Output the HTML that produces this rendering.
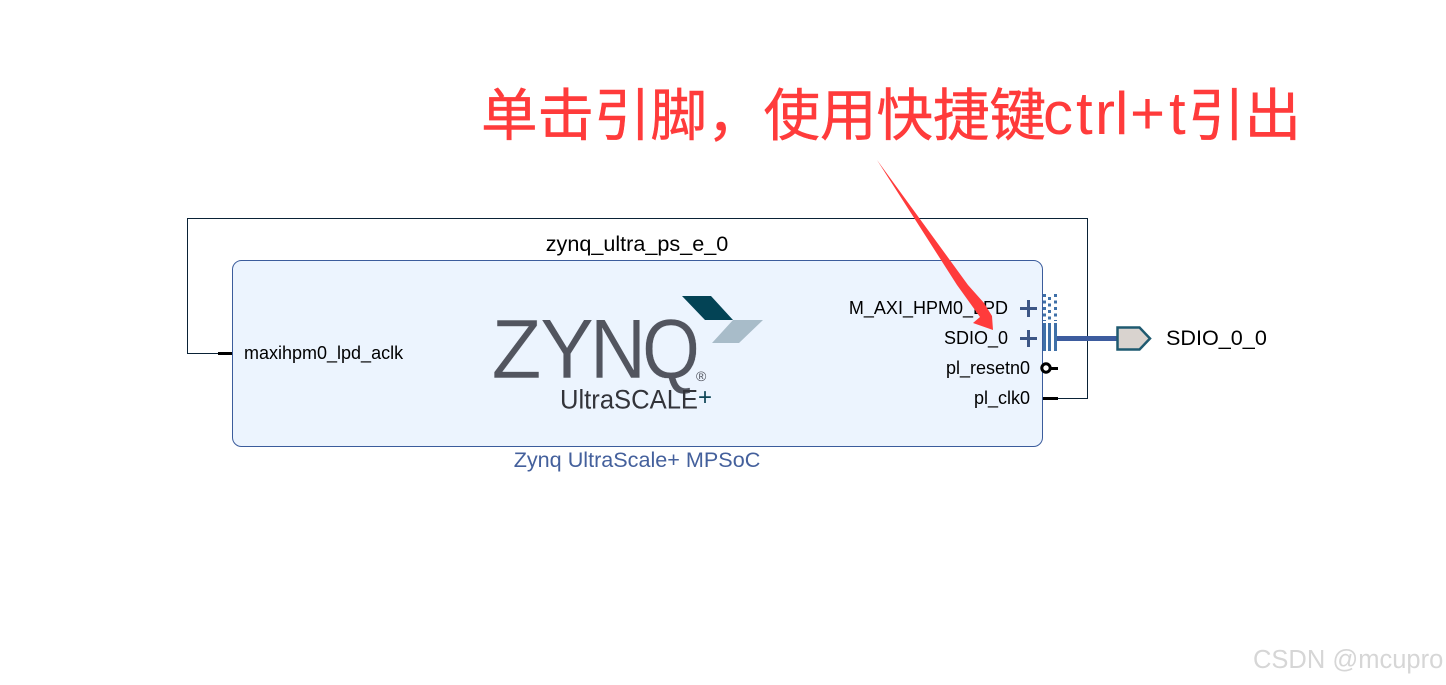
<!DOCTYPE html>
<html><head><meta charset="utf-8"><style>
html,body{margin:0;padding:0;background:#fff}
svg{display:block}
text{font-family:"Liberation Sans",sans-serif}
.cn{font-family:"Liberation Sans","Noto Sans CJK SC",sans-serif;font-size:56.5px;fill:#ff3b3b;stroke:#ff3b3b;stroke-width:0.5px}
</style></head><body>
<svg width="1446" height="685" viewBox="0 0 1446 685" xmlns="http://www.w3.org/2000/svg">
<rect width="1446" height="685" fill="#fff"/>
<path d="M232 353.5H187.5V218.5H1087.5V398.5H1043" fill="none" stroke="#0a2236" stroke-width="1"/>
<rect x="232.5" y="260.5" width="810" height="186" rx="9" fill="#ecf4fe" stroke="#3b5c9c" stroke-width="1"/>
<text x="637" y="251" font-size="21.6" text-anchor="middle" fill="#000">zynq_ultra_ps_e_0</text>
<text x="637" y="467" font-size="21.6" text-anchor="middle" fill="#44609c">Zynq UltraScale+ MPSoC</text>
<rect x="218" y="352" width="14" height="3" fill="#000"/>
<text x="244" y="359" font-size="18" fill="#000">maxihpm0_lpd_aclk</text>
<text x="1008" y="314" font-size="18" text-anchor="end" fill="#000">M_AXI_HPM0_LPD</text>
<text x="1008" y="344" font-size="18" text-anchor="end" fill="#000">SDIO_0</text>
<text x="1030" y="374" font-size="18" text-anchor="end" fill="#000">pl_resetn0</text>
<text x="1030" y="404" font-size="18" text-anchor="end" fill="#000">pl_clk0</text>
<g fill="#3c5686">
<rect x="1020" y="307" width="17" height="3"/><rect x="1027" y="300" width="3" height="17"/>
<rect x="1020" y="337" width="17" height="3"/><rect x="1027" y="330" width="3" height="17"/>
</g>
<g stroke="#3f70a8" stroke-width="3" fill="none" stroke-dasharray="3 3.5">
<path d="M1044.5 294V321M1049.5 297V321M1055.5 294V321"/>
</g>
<g fill="#3f70a8">
<rect x="1043" y="323" width="3" height="28"/><rect x="1048" y="323" width="3" height="28"/><rect x="1054" y="323" width="3" height="28"/>
</g>
<rect x="1057" y="336" width="60" height="5" fill="#3d5c9e"/>
<path d="M1117.5 327.5H1139.5L1150 338.5L1139.5 349.5H1117.5Z" fill="#d9d3cf" stroke="#1f5a70" stroke-width="2.5"/>
<text x="1166" y="345" font-size="21.6" fill="#000">SDIO_0_0</text>
<circle cx="1046" cy="368" r="4.2" fill="#fff" stroke="#000" stroke-width="3"/>
<rect x="1050" y="367" width="8" height="3" fill="#000"/>
<rect x="1043" y="397" width="15" height="3" fill="#000"/>
<g font-size="84" fill="#52555f" stroke="#ecf4fe" stroke-width="0.4">
<text x="491.5" y="378" textLength="50" lengthAdjust="spacingAndGlyphs">Z</text>
<text x="540" y="378" textLength="54" lengthAdjust="spacingAndGlyphs">Y</text>
<text x="590" y="378" textLength="56" lengthAdjust="spacingAndGlyphs">N</text>
<text x="642" y="378" textLength="58" lengthAdjust="spacingAndGlyphs">Q</text>
</g>
<text x="696" y="381" font-size="14" fill="#52555f">®</text>
<text x="560" y="408.5" font-size="27" fill="#33343a" textLength="138" lengthAdjust="spacingAndGlyphs">UltraSCALE</text>
<text x="698" y="405" font-size="24" fill="#0f4656">+</text>
<polygon points="682,296 711,296 733,320 705,320" fill="#034355"/>
<polygon points="733,320 763,320 739,343 712,343" fill="#a8bcc9"/>
<text class="cn" x="481" y="135">单击引脚，使用快捷键</text>
<text x="1043 1076 1095 1115 1130 1169" y="134" font-size="60" fill="#ff3b3b">ctrl+t</text>
<text class="cn" x="1188" y="135">引出</text>
<polygon points="877,160 968,285 984,303 992,316 993,330 973,323 980,317 957,285" fill="#ff3b3b"/>
<text x="1253" y="668" font-size="25.5" fill="#d6d6d6">CSDN @mcupro</text>
</svg>
</body></html>
